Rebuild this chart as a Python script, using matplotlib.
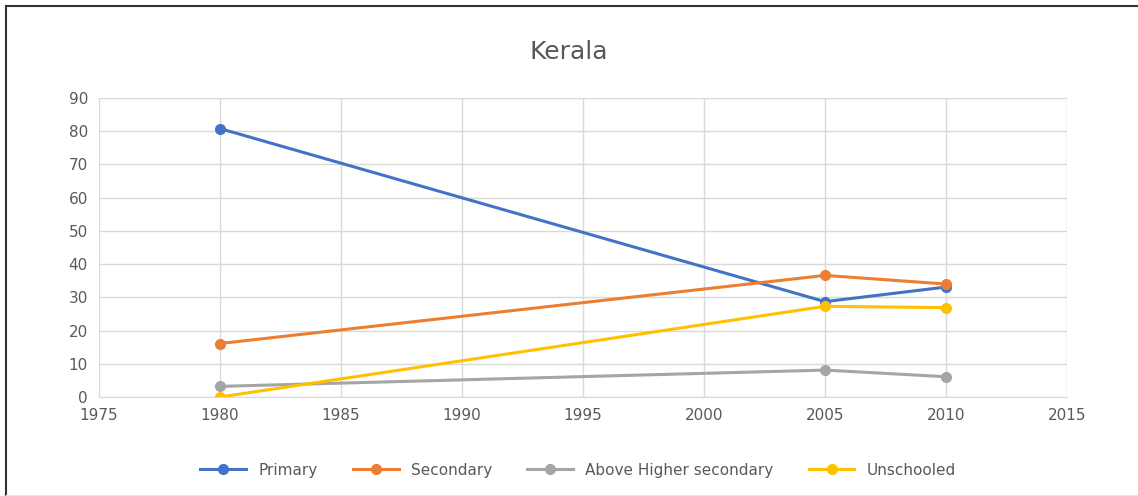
import matplotlib.pyplot as plt
from matplotlib.lines import Line2D

years = [1980, 2005, 2010]
primary = [80.8, 28.7, 33.1]
secondary = [16.1, 36.6, 34.0]
above_higher = [3.2, 8.1, 6.1]
unschooled = [0.0, 27.3, 26.9]

series = [
    ('Primary', primary, '#4472C4'),
    ('Secondary', secondary, '#ED7D31'),
    ('Above Higher secondary', above_higher, '#A5A5A5'),
    ('Unschooled', unschooled, '#FFC000'),
]

fig = plt.figure(figsize=(11.38, 4.96), dpi=100)
ax = fig.add_axes([0.087, 0.1996, 0.8506, 0.6028])

for name, vals, col in series:
    ax.plot(years, vals, color=col, lw=2.2, marker='o', ms=7, label=name)

ax.set_xlim(1975, 2015)
ax.set_ylim(0, 90)
ax.set_xticks(range(1975, 2016, 5))
ax.set_yticks(range(0, 91, 10))
ax.grid(True, color='#d9d9d9', lw=1)
ax.set_axisbelow(True)
for s in ['top', 'right', 'left']:
    ax.spines[s].set_visible(False)
ax.spines['bottom'].set_color('#d9d9d9')
ax.tick_params(length=0, labelsize=11, colors='#595959', pad=8)

fig.text(0.5, 0.895, 'Kerala', ha='center', va='center', fontsize=18, color='#595959')
fig.legend(loc='center', bbox_to_anchor=(0.508, 0.052), ncol=4, frameon=False,
           fontsize=11, labelcolor='#595959', handlelength=3, columnspacing=2.3)

# frame edges: dark on top and left, faint along the bottom
W, H = 1138, 496
fig.add_artist(Line2D([5.5 / W, 1], [1 - 5.5 / H, 1 - 5.5 / H], transform=fig.transFigure,
                      color='#333333', lw=1.5))
fig.add_artist(Line2D([5.5 / W, 5.5 / W], [0, 1 - 5.5 / H], transform=fig.transFigure,
                      color='#333333', lw=1.5))
fig.add_artist(Line2D([5.5 / W, 1], [1.5 / H, 1.5 / H], transform=fig.transFigure,
                      color='#e6e6e6', lw=1))

fig.savefig('out.png', dpi=100)
